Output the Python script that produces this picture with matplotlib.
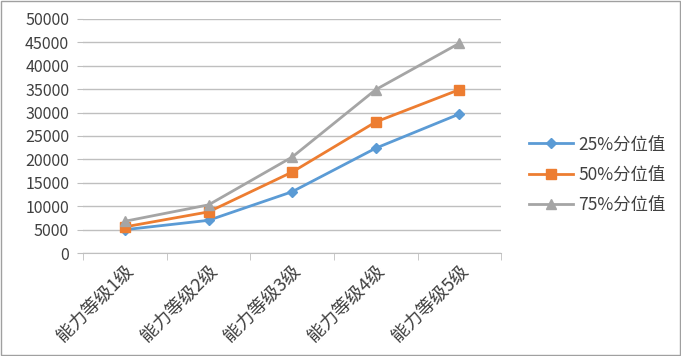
import numpy as np
import matplotlib.pyplot as plt
from matplotlib.patches import Rectangle

plt.rcParams['font.family'] = ['Noto Sans CJK SC', 'DejaVu Sans']

categories = ['能力等级1级', '能力等级2级', '能力等级3级', '能力等级4级', '能力等级5级']
p25 = [5000, 7000, 13100, 22400, 29700]
p50 = [5600, 8800, 17300, 28000, 34900]
p75 = [6800, 10300, 20500, 34900, 44800]
series_names = ['25%分位值', '50%分位值', '75%分位值']

fig = plt.figure(figsize=(6.81, 3.56), dpi=100)
ax = fig.add_axes([0.122, 0.289, 0.614, 0.658])

x = np.arange(len(categories))
ax.plot(x, p25, color='#5b9bd5', lw=2, marker='D', ms=5, label=series_names[0])
ax.plot(x, p50, color='#ed7d31', lw=2, marker='s', ms=6.5, label=series_names[1])
ax.plot(x, p75, color='#a5a5a5', lw=2, marker='^', ms=7, label=series_names[2])

ax.set_xlim(-0.5, len(categories) - 0.5)
ax.set_ylim(0, 50000)
ax.set_yticks(np.arange(0, 50001, 5000))
ax.yaxis.grid(True, color='#bfbfbf', lw=1)
ax.set_axisbelow(True)

ax.set_xticks(x)
ax.set_xticklabels(categories, rotation=45, ha='right', rotation_mode='anchor',
                   fontsize=13, color='#404040')
ax.set_xticks(np.arange(-0.5, len(categories), 1), minor=True)
ax.tick_params(axis='x', which='major', length=0, pad=7)
ax.tick_params(axis='x', which='minor', length=5, color='#bfbfbf')
ax.tick_params(axis='y', length=4, color='#bfbfbf', labelsize=11.5, labelcolor='#404040', pad=6)

for s in ['top', 'right', 'left']:
    ax.spines[s].set_visible(False)
ax.spines['bottom'].set_color('#bfbfbf')

ax.legend(loc='center left', bbox_to_anchor=(1.03, 0.335), frameon=False,
          fontsize=12.5, labelcolor='#404040', handlelength=2.5, handletextpad=0.3,
          labelspacing=0.7)

fig.patches.append(Rectangle((0.002, 0.003), 0.996, 0.994, transform=fig.transFigure,
                             fill=False, edgecolor='#a0a0a0', lw=1))

fig.savefig('out.png', dpi=100)
